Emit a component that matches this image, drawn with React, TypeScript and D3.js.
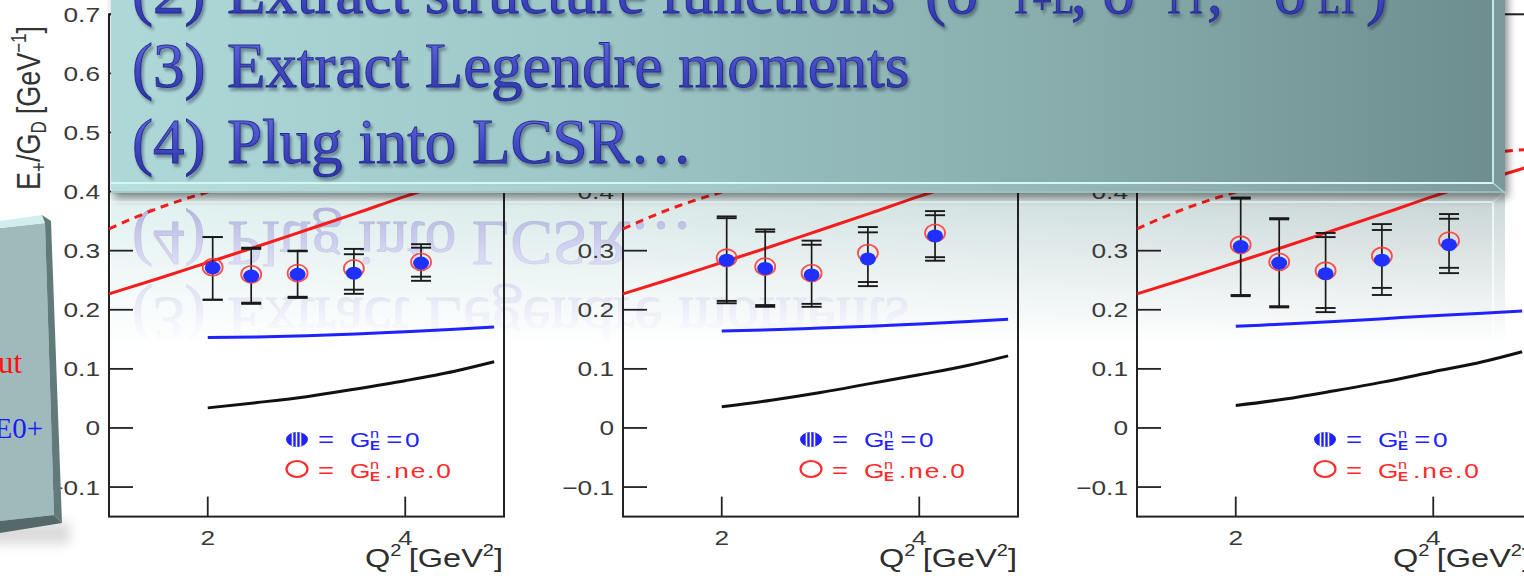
import React from "react";
import * as d3 from "d3";

const WIDTH = 1524;
const HEIGHT = 576;

// Q² (GeV²) of the five measured bins, shared by the three panels
const binQ2 = [2.05, 2.44, 2.91, 3.48, 4.16];

// E+/G_D extracted with G_E^n = 0 (filled markers), one row per panel
const filledValues = [
  [0.271, 0.257, 0.26, 0.262, 0.279],
  [0.284, 0.27, 0.259, 0.286, 0.325],
  [0.307, 0.279, 0.261, 0.284, 0.31],
];
// E+/G_D extracted with G_E^n != 0 (open markers)
const openValues = [
  [0.272, 0.26, 0.262, 0.27, 0.281],
  [0.288, 0.273, 0.262, 0.296, 0.33],
  [0.31, 0.281, 0.266, 0.291, 0.317],
];
// error bar ends for the two extractions
const upperFilled = [
  [0.323, 0.305, 0.3, 0.303, 0.311],
  [0.358, 0.336, 0.317, 0.34, 0.367],
  [0.39, 0.355, 0.33, 0.345, 0.362],
];
const upperOpen = [
  [0.323, 0.303, 0.299, 0.294, 0.305],
  [0.355, 0.332, 0.31, 0.331, 0.36],
  [0.388, 0.353, 0.323, 0.335, 0.354],
];
const lowerFilled = [
  [0.217, 0.21, 0.222, 0.234, 0.256],
  [0.215, 0.208, 0.21, 0.247, 0.289],
  [0.225, 0.206, 0.203, 0.237, 0.271],
];
const lowerOpen = [
  [0.217, 0.212, 0.22, 0.227, 0.249],
  [0.211, 0.205, 0.205, 0.24, 0.283],
  [0.223, 0.204, 0.196, 0.225, 0.262],
];

// model curves
const modelQ2 = [2, 2.5, 3, 3.5, 4, 4.5, 4.9];
const blueModel = [
  [0.153, 0.154, 0.156, 0.159, 0.163, 0.167, 0.171],
  [0.164, 0.166, 0.169, 0.172, 0.176, 0.18, 0.184],
  [0.172, 0.176, 0.18, 0.185, 0.19, 0.194, 0.198],
];
const blackModel = [
  [0.034, 0.043, 0.053, 0.066, 0.08, 0.096, 0.112],
  [0.036, 0.047, 0.06, 0.075, 0.09, 0.106, 0.122],
  [0.038, 0.049, 0.063, 0.078, 0.095, 0.112, 0.129],
];
const redQ2 = [1, 1.5, 2, 2.5, 3, 3.5, 4, 4.5, 5];
const redSolid = [0.227, 0.253, 0.28, 0.307, 0.335, 0.363, 0.392, 0.418, 0.444];
const redDashed = [0.337, 0.372, 0.399, 0.419, 0.434, 0.446, 0.456, 0.465, 0.472];

// axes
const yTicks = [-0.1, 0, 0.1, 0.2, 0.3, 0.4, 0.5, 0.6, 0.7];
const xTicks = [2, 4];
const q2Domain = [1, 5];
const yDomain = [-0.15, 0.7];

// slide text
const stepNumbers = ["(2)", "(3)", "(4)"];
const stepThree = "Extract Legendre moments";
const stepFour = "Plug into LCSR\u2026";

const SANS = "'Liberation Sans', Arial, Helvetica, sans-serif";
const SERIF = "'Liberation Serif', 'Times New Roman', serif";
const SX = 1.25; // the plot artwork is horizontally widened
const INK = "#222";
const RED = "#f41c1c";
const BLUE = "#1f22ff";

const panelLeft = [109, 623, 1137];
const panelWidth = 395;
const yScale = d3.scaleLinear().domain(yDomain).range([516.6, 14.3]);

function fmtTick(t: number) {
  if (Math.abs(t) < 1e-9) return "0";
  return (t < 0 ? "\u2212" : "") + Math.abs(t).toFixed(1);
}

function Panel({ i }: { i: number }) {
  const left = panelLeft[i];
  const x = d3.scaleLinear().domain(q2Domain).range([left, left + panelWidth]);
  const y = yScale;
  const lineGen = d3
    .line<[number, number]>()
    .x((d) => x(d[0]))
    .y((d) => y(d[1]))
    .curve(d3.curveMonotoneX);
  const curve = (xs: number[], ys: number[]) =>
    lineGen(xs.map((v, k) => [v, ys[k]] as [number, number])) || "";

  const top = y(yDomain[1]);
  const bottom = y(yDomain[0]);
  const lx = left + 188; // legend symbol column

  return (
    <g>
      <rect x={left} y={top} width={panelWidth} height={bottom - top} fill="none" stroke={INK} strokeWidth={2} />
      {yTicks.map((t) => (
        <g key={"y" + t}>
          <line x1={left} x2={left + 24} y1={y(t)} y2={y(t)} stroke={INK} strokeWidth={1.8} />
          <text
            transform={`translate(${left - 9},${y(t) + 7.5}) scale(${SX},1)`}
            textAnchor="end"
            fontFamily={SANS}
            fontSize={21}
            fill="#3a3a3a"
          >
            {fmtTick(t)}
          </text>
        </g>
      ))}
      {xTicks.map((t) => (
        <g key={"x" + t}>
          <line x1={x(t)} x2={x(t)} y1={bottom} y2={bottom - 20} stroke={INK} strokeWidth={1.8} />
          <text
            transform={`translate(${x(t)},${bottom + 28.5}) scale(${SX},1)`}
            textAnchor="middle"
            fontFamily={SANS}
            fontSize={21}
            fill="#3a3a3a"
          >
            {t}
          </text>
        </g>
      ))}
      <text
        transform={`translate(${left + panelWidth - 1},567) scale(${SX},1)`}
        textAnchor="end"
        fontFamily={SANS}
        fontSize={26}
        fill="#2e2e2e"
      >
        Q<tspan fontSize={16} dy={-11}>2</tspan>
        <tspan dy={11} dx={6}>[GeV</tspan>
        <tspan fontSize={16} dy={-11}>2</tspan>
        <tspan dy={11}>]</tspan>
      </text>

      {/* model curves */}
      <path d={curve(redQ2, redDashed)} fill="none" stroke={RED} strokeWidth={3} strokeDasharray="8 6" />
      <path d={curve(redQ2, redSolid)} fill="none" stroke={RED} strokeWidth={3} />
      <path d={curve(modelQ2, blueModel[i])} fill="none" stroke={BLUE} strokeWidth={3} />
      <path d={curve(modelQ2, blackModel[i])} fill="none" stroke="#111" strokeWidth={3} />

      {/* data points */}
      {binQ2.map((q, k) => {
        const cx = x(q);
        const ends = [upperFilled[i][k], upperOpen[i][k], lowerFilled[i][k], lowerOpen[i][k]];
        const hi = Math.max(...ends);
        const lo = Math.min(...ends);
        return (
          <g key={"p" + k}>
            <line x1={cx} x2={cx} y1={y(hi)} y2={y(lo)} stroke="#1a1a1a" strokeWidth={1.7} />
            {ends.map((e, m) => (
              <line key={m} x1={cx - 10} x2={cx + 10} y1={y(e)} y2={y(e)} stroke="#1a1a1a" strokeWidth={1.9} />
            ))}
            <ellipse cx={cx} cy={y(openValues[i][k])} rx={10} ry={8.5} fill="none" stroke="#ff3b3b" strokeWidth={1.8} opacity={0.9} />
            <ellipse cx={cx} cy={y(filledValues[i][k])} rx={8} ry={6.5} fill="#2030ff" />
          </g>
        );
      })}

      {/* legend */}
      <g>
        <clipPath id={`legSym${i}`}>
          <ellipse cx={lx} cy={439.5} rx={11} ry={7.5} />
        </clipPath>
        <ellipse cx={lx} cy={439.5} rx={11} ry={7.5} fill={BLUE} />
        <g clipPath={`url(#legSym${i})`} stroke="#fff" strokeWidth={1.6}>
          {[-4.5, -0.5, 3.5].map((o) => (
            <line key={o} x1={lx + o} x2={lx + o} y1={430} y2={450} />
          ))}
        </g>
        <text transform={`translate(${lx + 21},447) scale(${SX},1)`} fontFamily={SANS} fontSize={22} fill={BLUE}>
          =
        </text>
        <g transform={`translate(${lx + 53},447) scale(${SX},1)`} fontFamily={SANS} fill={BLUE}>
          <text fontSize={21}>G</text>
          <text x={16} y={3} fontSize={12} fontWeight="bold">E</text>
          <text x={16} y={-9} fontSize={13}>n</text>
          <text x={29} fontSize={22}>=</text>
          <text x={44} fontSize={21}>0</text>
        </g>

        <ellipse cx={lx} cy={469} rx={10.5} ry={8} fill="none" stroke="#ff2a2a" strokeWidth={2.2} />
        <text transform={`translate(${lx + 21},478) scale(${SX},1)`} fontFamily={SANS} fontSize={22} fill="#ff2a2a">
          =
        </text>
        <g transform={`translate(${lx + 53},478) scale(${SX},1)`} fontFamily={SANS} fill="#ff2a2a">
          <text fontSize={21}>G</text>
          <text x={16} y={3} fontSize={12} fontWeight="bold">E</text>
          <text x={16} y={-9} fontSize={13}>n</text>
          <text x={28} fontSize={21} letterSpacing={1.5}>.ne.0</text>
        </g>
      </g>
    </g>
  );
}

function YAxisTitle() {
  return (
    <text
      transform="translate(40,190) rotate(-90) scale(1,1.25)"
      fontFamily={SANS}
      fontSize={27}
      fill="#333"
    >
      E<tspan fontSize={17} dy={5}>+</tspan>
      <tspan dy={-5}>/G</tspan>
      <tspan fontSize={17} dy={5}>D</tspan>
      <tspan dy={-5} dx={7}>[GeV</tspan>
      <tspan fontSize={17} dy={-11}>{"\u22121"}</tspan>
      <tspan dy={11}>]</tspan>
    </text>
  );
}

function Callout({ shadowed }: { shadowed: boolean }) {
  const textProps = {
    fontFamily: SERIF,
    fontSize: 63,
    fill: "url(#stepInk)",
    stroke: "#252c8c",
    strokeWidth: 0.9,
    filter: shadowed ? "url(#stepShadow)" : undefined,
  };
  return (
    <g>
      <rect x={111} y={-30} width={1394} height={223} fill="url(#boxFill)" />
      <polygon points="111,183 1493,183 1505,193 111,193" fill="#ffffff" opacity={0.13} />
      <polygon points="1493,-30 1505,-30 1505,193 1493,183" fill="#ffffff" opacity={0.1} />
      <line x1={111} y1={183} x2={1493} y2={183} stroke="#d6f6f6" strokeWidth={2} />
      <line x1={1493} y1={-30} x2={1493} y2={183} stroke="#c2e6e6" strokeWidth={2} />
      <line x1={1493} y1={183} x2={1505} y2={193} stroke="#b4d6d6" strokeWidth={1.5} />
      <line x1={111} y1={192} x2={1505} y2={192} stroke="#9cc4c4" strokeWidth={1.5} />

      <text {...textProps} y={13}>
        <tspan x={132}>{stepNumbers[0]}</tspan>
        <tspan x={227}>Extract structure functions</tspan>
        <tspan x={925}>({"\u03c3"}</tspan>
        <tspan x={1010} fontSize={36}>T+L</tspan>
        <tspan x={1071}>, {"\u03c3"}</tspan>
        <tspan x={1163} fontSize={36}>TT</tspan>
        <tspan x={1207}>, </tspan>
        <tspan x={1274}>{"\u03c3"}</tspan>
        <tspan x={1318} fontSize={36}>LT</tspan>
        <tspan x={1366}>)</tspan>
      </text>
      <text {...textProps} y={87}>
        <tspan x={132}>{stepNumbers[1]}</tspan>
        <tspan x={227}>{stepThree}</tspan>
      </text>
      <text {...textProps} y={163}>
        <tspan x={132}>{stepNumbers[2]}</tspan>
        <tspan x={227}>{stepFour}</tspan>
      </text>
    </g>
  );
}

function SideSlab() {
  return (
    <g>
      <rect x={-10} y={522} width={80} height={22} fill="#000" opacity={0.14} filter="url(#softBlur)" />
      <polygon points="0,228 45,223 54,515 0,521" fill="#9ebaba" />
      <polygon points="0,221 42,215 45,223 0,228" fill="#d2eded" />
      <polygon points="42,215 51,221 62,523 54,515 45,223" fill="#627a7a" />
      <polygon points="0,521 54,515 62,523 0,533" fill="#55696a" />
      <text x={22} y={373} textAnchor="end" fontFamily={SERIF} fontSize={31} fill="#ff1010">
        ut
      </text>
      <text x={43} y={438} textAnchor="end" fontFamily={SERIF} fontSize={29} fill="#1a1aff">
        E0+
      </text>
    </g>
  );
}

export default function App() {
  return (
    <svg
      width={WIDTH}
      height={HEIGHT}
      viewBox={`0 0 ${WIDTH} ${HEIGHT}`}
      style={{ position: "absolute", left: 0, top: 0, display: "block" }}
    >
      <defs>
        <linearGradient id="boxFill" x1={111} y1={0} x2={1505} y2={0} gradientUnits="userSpaceOnUse">
          <stop offset="0" stopColor="#afd9d9" />
          <stop offset="0.35" stopColor="#9dc6c6" />
          <stop offset="0.7" stopColor="#87abab" />
          <stop offset="1" stopColor="#6d8d8d" />
        </linearGradient>
        <linearGradient id="stepInk" x1="0" y1="0" x2="0" y2="1">
          <stop offset="0" stopColor="#6a72e6" />
          <stop offset="0.55" stopColor="#4048c4" />
          <stop offset="1" stopColor="#2c33a6" />
        </linearGradient>
        <filter id="stepShadow" x="-5%" y="-30%" width="110%" height="170%">
          <feDropShadow dx={2} dy={3} stdDeviation={1.6} floodColor="#1d2440" floodOpacity={0.45} />
        </filter>
        <filter id="boxShadow" filterUnits="userSpaceOnUse" x={80} y={-60} width={1480} height={290}>
          <feGaussianBlur stdDeviation={4} />
        </filter>
        <filter id="softBlur" x="-50%" y="-100%" width="200%" height="300%">
          <feGaussianBlur stdDeviation={6} />
        </filter>
        <linearGradient id="reflFade" x1={0} y1={192} x2={0} y2={345} gradientUnits="userSpaceOnUse">
          <stop offset="0" stopColor="#fff" stopOpacity={0.4} />
          <stop offset="1" stopColor="#fff" stopOpacity={0} />
        </linearGradient>
        <mask id="reflMask" maskUnits="userSpaceOnUse" x={0} y={190} width={WIDTH} height={200}>
          <rect x={0} y={192} width={WIDTH} height={160} fill="url(#reflFade)" />
        </mask>
      </defs>

      <rect width={WIDTH} height={HEIGHT} fill="#fff" />

      {/* mirrored copy of the callout, lying under the plots */}
      <g mask="url(#reflMask)">
        <g transform="translate(0,385) scale(1,-1)">
          <Callout shadowed={false} />
        </g>
      </g>

      {[0, 1, 2].map((i) => (
        <Panel key={i} i={i} />
      ))}
      <YAxisTitle />

      <rect x={114} y={-25} width={1394} height={223} fill="#000" opacity={0.45} filter="url(#boxShadow)" />
      <Callout shadowed={true} />

      <SideSlab />
    </svg>
  );
}
